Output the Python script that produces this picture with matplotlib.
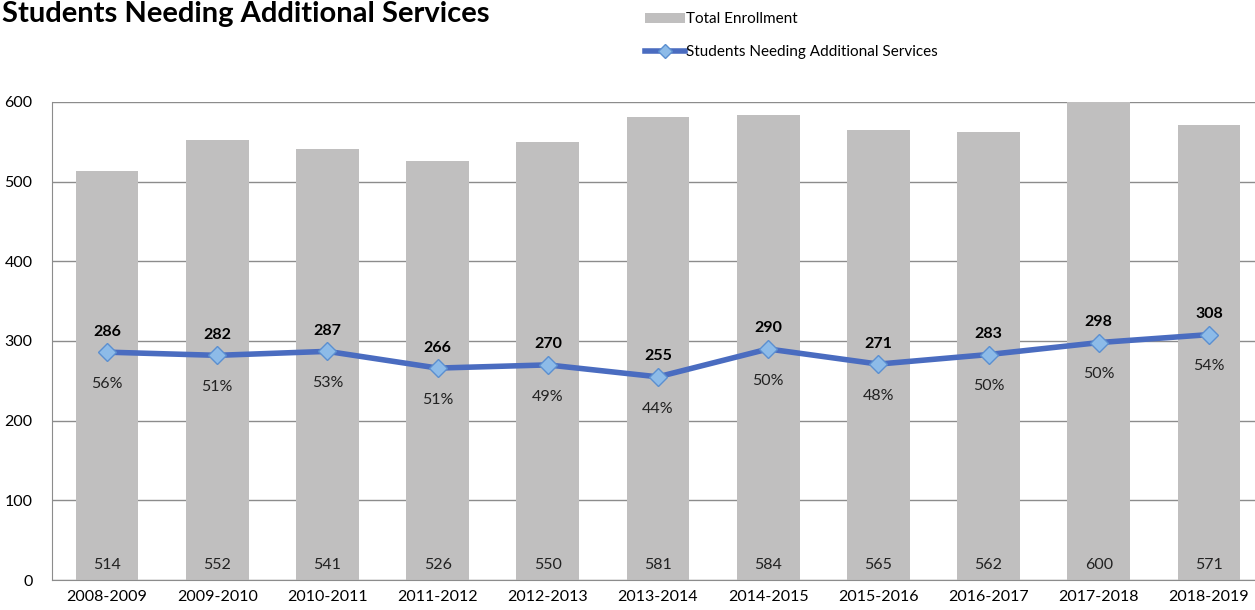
import matplotlib
matplotlib.use("Agg")
import matplotlib.pyplot as plt
from matplotlib.lines import Line2D
from matplotlib.patches import Patch

plt.rcParams['font.family'] = ['Lato', 'DejaVu Sans']

years = ["2008-2009", "2009-2010", "2010-2011", "2011-2012", "2012-2013", "2013-2014",
         "2014-2015", "2015-2016", "2016-2017", "2017-2018", "2018-2019"]
enrollment = [514, 552, 541, 526, 550, 581, 584, 565, 562, 600, 571]
needing = [286, 282, 287, 266, 270, 255, 290, 271, 283, 298, 308]
percents = ["56%", "51%", "53%", "51%", "49%", "44%", "50%", "48%", "50%", "50%", "54%"]
yticks = [0, 100, 200, 300, 400, 500, 600]

fig = plt.figure(figsize=(12.55, 6.10), dpi=100)
W, H = 1255, 610
ax = fig.add_axes([52 / W, 30 / H, (1264 - 52) / W, (580 - 102) / H])

x = list(range(len(years)))
ax.bar(x, enrollment, width=0.57, color="#c0bfbf", zorder=2)
ax.plot(x, needing, color="#4a6cc0", lw=4, marker="D", markersize=9,
        markerfacecolor="#8dbbe8", markeredgecolor="#5b8fd0", markeredgewidth=1, zorder=4)

for i in x:
    ax.text(i, needing[i] + 17, str(needing[i]), ha="center", va="bottom",
            fontsize=11.5, fontweight="bold", color="black", zorder=5)
    ax.text(i, needing[i] - 40, percents[i], ha="center", va="center",
            fontsize=11.5, color="#222222", zorder=5)
    ax.text(i, 19, str(enrollment[i]), ha="center", va="center",
            fontsize=11.5, color="#222222", zorder=5)

ax.set_xlim(-0.5, len(years) - 0.5)
ax.set_ylim(0, 600)
ax.set_yticks(yticks)
ax.set_xticks(x)
ax.set_xticklabels(years, fontsize=11.5)
ax.tick_params(axis="y", labelsize=11.5, length=0, pad=14)
ax.tick_params(axis="x", length=0, pad=7)
ax.grid(axis="y", color="#8c8c8c", lw=1, zorder=1)
ax.set_axisbelow(True)
for s in ["top", "right"]:
    ax.spines[s].set_visible(False)
for s in ["left", "bottom"]:
    ax.spines[s].set_color("#8c8c8c")

fig.text(0.0015, 0.998, "Students Needing Additional Services", ha="left", va="top",
         fontsize=21, fontweight="bold", color="black")

handles = [Patch(facecolor="#c0bfbf", edgecolor="none"),
           Line2D([0], [0], color="#4a6cc0", lw=4, marker="D", markersize=7,
                  markerfacecolor="#8dbbe8", markeredgecolor="#5b8fd0")]
fig.legend(handles, ["Total Enrollment", "Students Needing Additional Services"],
           loc="upper left", bbox_to_anchor=(636 / W, 0.995), frameon=False,
           fontsize=11, handlelength=2.6, handletextpad=0.1, labelspacing=1.25,
           borderaxespad=0.2)

fig.savefig("out.png", dpi=100)
